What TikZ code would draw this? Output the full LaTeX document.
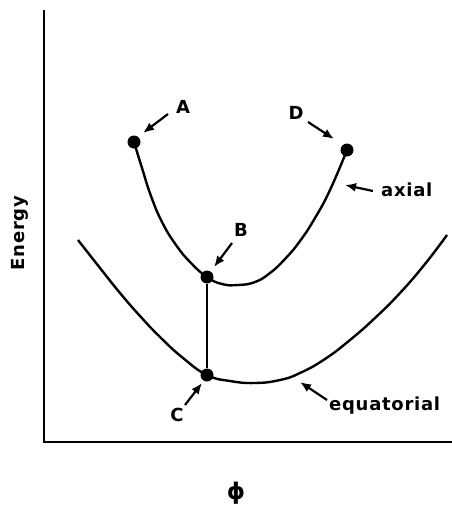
\documentclass[tikz,border=0pt]{standalone}
\usepackage{fontspec}
\newfontfamily\labfont[LetterSpace=4]{DejaVu Sans}
\newfontfamily\phifont{DejaVu Sans}
\usetikzlibrary{arrows.meta}
\begin{document}
\begin{tikzpicture}[x=1pt,y=-1pt,
  curve/.style={line width=2.4pt},
  axisline/.style={line width=2.4pt},
  dot/.style={circle,fill=black,inner sep=0pt,minimum size=13pt},
  lab/.style={font=\labfont\bfseries\fontsize{18}{20}\selectfont,inner sep=1pt},
  pointer/.style={line width=2.2pt,-{Latex[length=11pt,width=9pt]}}]
\useasboundingbox (0,0) rectangle (452,506);
% axes
\coordinate (top) at (44,10);
\coordinate (origin) at (44,442);
\coordinate (right) at (452,442);
\draw[axisline] (top) -- (origin) -- (right);
% curves
\draw[curve] plot[smooth,tension=0.8] coordinates {(78,240) (100,268) (120,293) (140,316) (160,337) (183,358) (207,375) (230,381) (255,383) (280,380) (300,373) (325,359) (350,340) (375,318) (400,293) (425,264) (447,235)};
\draw[curve] plot[smooth,tension=0.8] coordinates {(134,142) (142,168) (151,196) (162,222) (176,245) (191,263) (207,277) (222,284) (238,285) (255,282) (270,273) (285,259) (300,241) (315,218) (330,190) (347,150)};
% points
\node[dot] (A) at (134,142) {};
\node[dot] (B) at (207,277) {};
\node[dot] (C) at (207,375) {};
\node[dot] (D) at (347,150) {};
\draw[curve] (B) -- (C);
% labels
\node[lab] (lA) at (183,107) {A};
\node[lab] (lB) at (241,230) {B};
\node[lab] (lC) at (177,415) {C};
\node[lab] (lD) at (296,113) {D};
\node[lab,anchor=west] (lax) at (380,190) {axial};
\node[lab,anchor=west] (leq) at (328,406) {equatorial};
\node[lab,rotate=90] (energy) at (20,233) {Energy};
\node[font=\phifont\bfseries\fontsize{23}{25}\selectfont,inner sep=1pt] (phi) at (236,493) {ϕ};
% pointers
\coordinate (sA) at (168,114);  \coordinate (aA) at (143,133);
\coordinate (sB) at (232,243);  \coordinate (aB) at (214,267);
\coordinate (sC) at (185,405);  \coordinate (aC) at (202,383);
\coordinate (sD) at (308,122);  \coordinate (aD) at (334,139);
\coordinate (sax) at (373,191); \coordinate (aax) at (345,185);
\coordinate (seq) at (327,400); \coordinate (aeq) at (300,382);
\draw[pointer] (sA) -- (aA);
\draw[pointer] (sB) -- (aB);
\draw[pointer] (sC) -- (aC);
\draw[pointer] (sD) -- (aD);
\draw[pointer] (sax) -- (aax);
\draw[pointer] (seq) -- (aeq);
\end{tikzpicture}
\end{document}
